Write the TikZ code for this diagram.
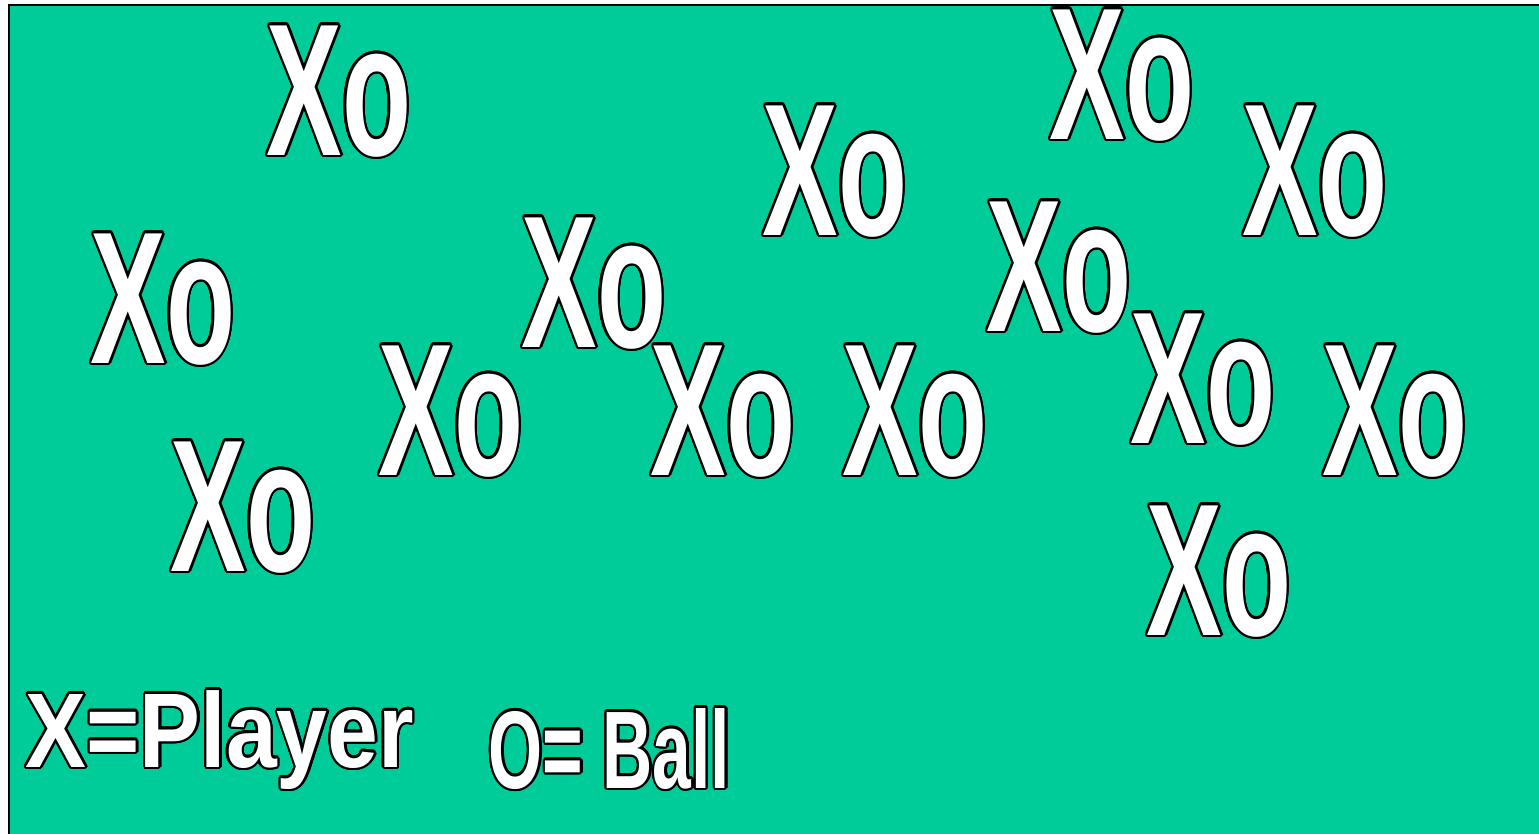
\documentclass[tikz,border=0pt]{standalone}
\usepackage{fontspec}
\setmainfont{Liberation Sans}
\usepackage{contour}
\contourlength{0.7pt}
\usepackage{xcolor}
\definecolor{pitchgreen}{RGB}{0,204,153}

\tikzset{
  pair/.style={anchor=base west, inner sep=0pt, text=white,
    font=\bfseries\fontsize{53.6}{60}\selectfont},
  legend/.style={anchor=base west, inner sep=0pt, text=white}
}
\newcommand{\xo}{\contour{black}{\scalebox{0.6}[1]{Xo}}}

\begin{document}
\begin{tikzpicture}
        \useasboundingbox (0,0) rectangle (15.39,8.33);
        \clip (0,0) rectangle (15.39,8.33);
        % Pitch
        \draw[line width=0.6pt,fill=pitchgreen] (0.09,8.28) rectangle (15.6,-0.2);

        % Players with their balls
        \foreach \x/\y [count=\i] in {2.66/6.78, 0.90/4.70, 1.70/2.62, 3.78/3.58,
                                      5.21/4.86, 6.50/3.58, 7.62/5.98, 8.42/3.58,
                                      9.86/5.02, 10.49/6.94, 12.42/5.98, 11.30/3.90,
                                      13.22/3.58, 11.46/1.98}{
          \node[pair] (p\i) at (\x,\y) {\xo};
        }

        % Key
        \node[legend,font=\bfseries\fontsize{30.2}{34}\selectfont] (keyplayer) at (0.25,0.66)
          {\contour{black}{\scalebox{0.86}[1]{X=Player}}};
        \node[legend,font=\bfseries\fontsize{31.4}{35}\selectfont] (keyball) at (4.88,0.45)
          {\contour{black}{\scalebox{0.63}[1]{O= Ball}}};
      \end{tikzpicture}
\end{document}
